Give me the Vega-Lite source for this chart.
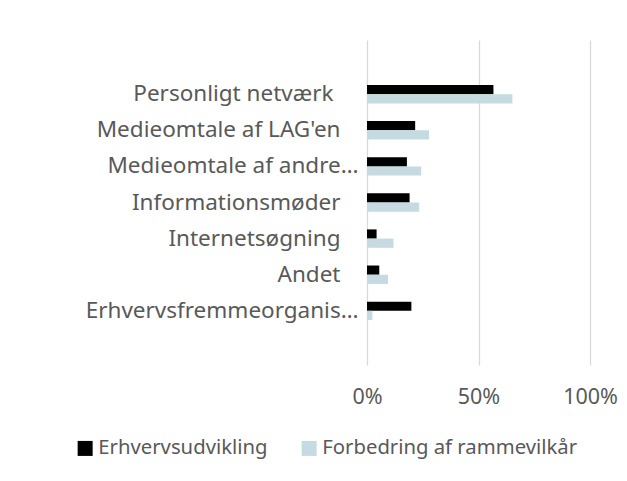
{
  "$schema": "https://vega.github.io/schema/vega-lite/v6.json",
  "width": 223,
  "height": 325,
  "autosize": "none",
  "padding": {"left": 367, "top": 40, "right": 37, "bottom": 116},
  "background": "white",
  "config": {
    "view": {"stroke": null},
    "font": "Noto Sans"
  },
  "data": {
    "values": [
      {"kategori": "Personligt netværk", "serie": "Erhvervsudvikling", "andel": 0.567},
      {"kategori": "Personligt netværk", "serie": "Forbedring af rammevilkår", "andel": 0.652},
      {"kategori": "Medieomtale af LAG'en", "serie": "Erhvervsudvikling", "andel": 0.216},
      {"kategori": "Medieomtale af LAG'en", "serie": "Forbedring af rammevilkår", "andel": 0.278},
      {"kategori": "Medieomtale af andre…", "serie": "Erhvervsudvikling", "andel": 0.179},
      {"kategori": "Medieomtale af andre…", "serie": "Forbedring af rammevilkår", "andel": 0.243},
      {"kategori": "Informationsmøder", "serie": "Erhvervsudvikling", "andel": 0.191},
      {"kategori": "Informationsmøder", "serie": "Forbedring af rammevilkår", "andel": 0.234},
      {"kategori": "Internetsøgning", "serie": "Erhvervsudvikling", "andel": 0.043},
      {"kategori": "Internetsøgning", "serie": "Forbedring af rammevilkår", "andel": 0.119},
      {"kategori": "Andet", "serie": "Erhvervsudvikling", "andel": 0.055},
      {"kategori": "Andet", "serie": "Forbedring af rammevilkår", "andel": 0.094},
      {"kategori": "Erhvervsfremmeorganis…", "serie": "Erhvervsudvikling", "andel": 0.199},
      {"kategori": "Erhvervsfremmeorganis…", "serie": "Forbedring af rammevilkår", "andel": 0.024}
    ]
  },
  "mark": {"type": "bar"},
  "encoding": {
    "y": {
      "field": "kategori",
      "type": "nominal",
      "title": null,
      "scale": {
        "domain": [" ", "Personligt netværk", "Medieomtale af LAG'en", "Medieomtale af andre…", "Informationsmøder", "Internetsøgning", "Andet", "Erhvervsfremmeorganis…", "  "],
        "paddingInner": 0.49,
        "paddingOuter": 0.245
      },
      "axis": {
        "domain": false,
        "ticks": false,
        "labelFontSize": 22.5,
        "labelColor": "#595959",
        "labelLimit": 400,
        "labelPadding": {
          "condition": [
            {"test": "indexof(datum.value, '…') >= 0", "value": 9},
            {"test": "datum.value == 'Personligt netværk'", "value": 34}
          ],
          "value": 27
        }
      }
    },
    "yOffset": {
      "field": "serie",
      "type": "nominal",
      "sort": ["Erhvervsudvikling", "Forbedring af rammevilkår"],
      "scale": {"paddingInner": 0, "paddingOuter": 0}
    },
    "x": {
      "field": "andel",
      "type": "quantitative",
      "title": null,
      "scale": {"domain": [0, 1]},
      "axis": {
        "values": [0, 0.5, 1],
        "format": ".0%",
        "domain": false,
        "ticks": false,
        "grid": true,
        "gridColor": "#d9d9d9",
        "gridWidth": 1.3,
        "labelFontSize": 21.5,
        "labelColor": "#595959",
        "labelPadding": 21,
        "labelFlush": false
      }
    },
    "color": {
      "field": "serie",
      "type": "nominal",
      "sort": ["Erhvervsudvikling", "Forbedring af rammevilkår"],
      "scale": {"range": ["#000000", "#c5dbe1"]},
      "legend": {
        "title": null,
        "orient": "none",
        "direction": "horizontal",
        "legendX": -292,
        "legendY": 398,
        "symbolType": "square",
        "symbolSize": 225,
        "symbolStrokeWidth": 0,
        "labelFontSize": 20.3,
        "labelColor": "#595959",
        "labelOffset": 3,
        "columnPadding": 31,
        "labelLimit": 400
      }
    }
  }
}
